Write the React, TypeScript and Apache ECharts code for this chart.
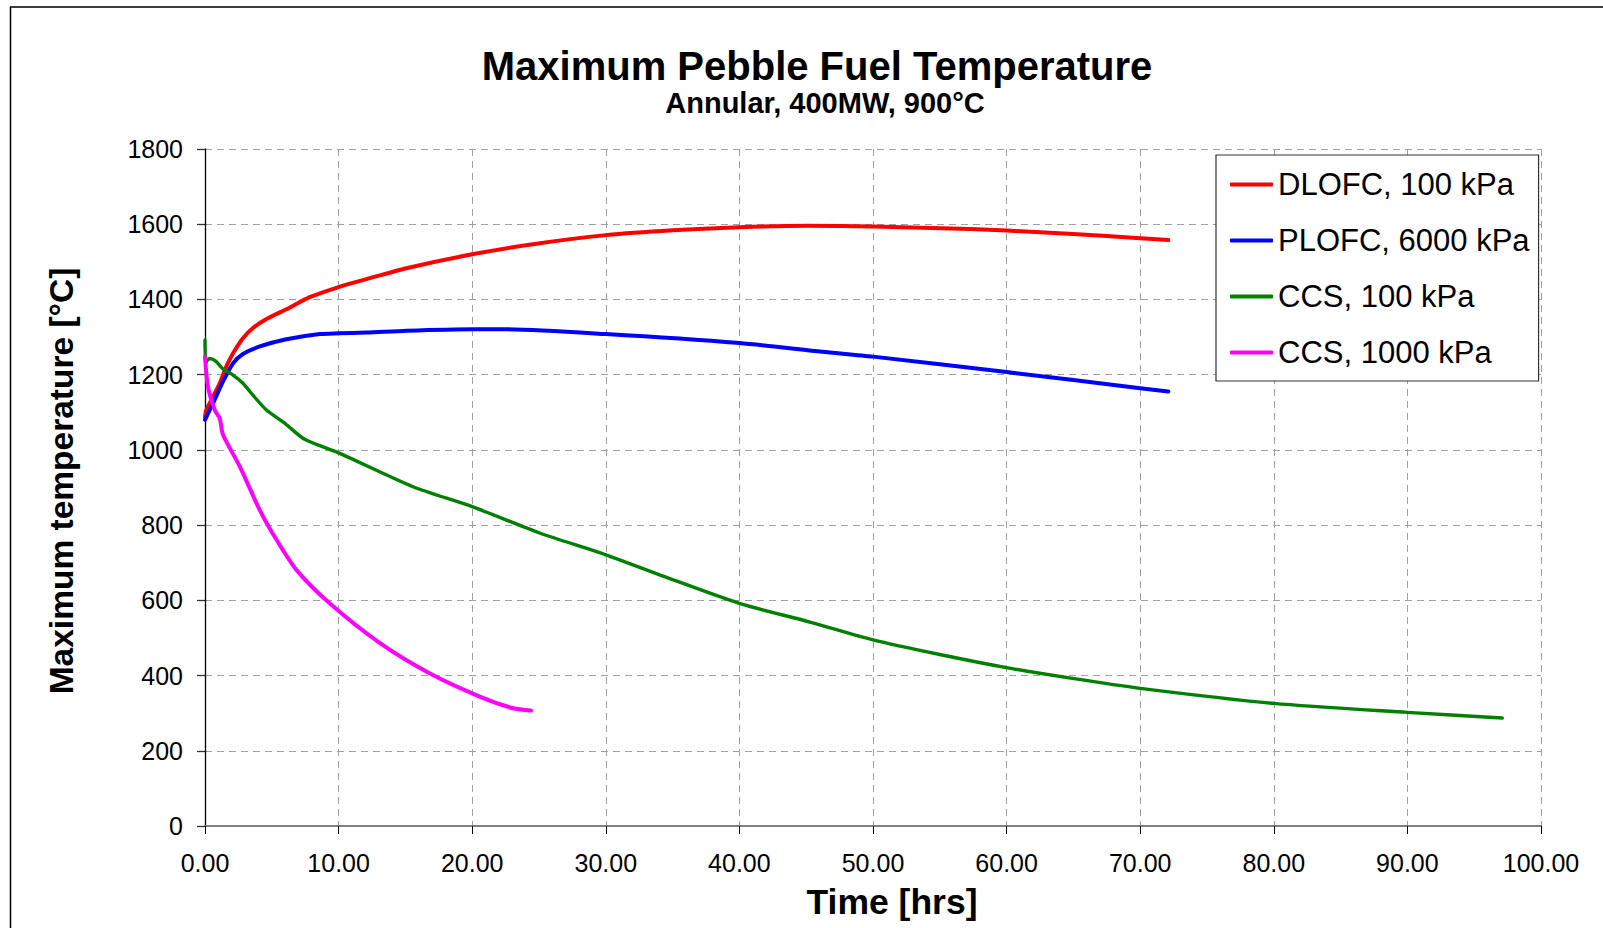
import React, { useEffect, useRef } from "react";
import * as echarts from "echarts";

const seriesNames = ["DLOFC, 100 kPa", "PLOFC, 6000 kPa", "CCS, 100 kPa", "CCS, 1000 kPa"];
const seriesColors = ["#FF0000", "#0000FF", "#008000", "#FF00FF"];

const dlofc100: [number, number][] = [
  [0, 1087], [0.1, 1106], [1.1, 1177], [1.6, 1222], [2.1, 1257], [2.84, 1297], [3.59, 1324],
  [4.6, 1348], [6.09, 1374], [7.84, 1406], [10, 1433], [12.08, 1454], [15.07, 1483], [20, 1520],
  [24.55, 1547], [30, 1571], [35, 1584], [40, 1592], [45, 1596], [50, 1594], [57.3, 1587],
  [60, 1583], [65, 1574], [70, 1563], [72.1, 1558],
];

const plofc6000: [number, number][] = [
  [0, 1080], [0.6, 1124], [1.35, 1182], [2.1, 1230], [2.84, 1255], [4.1, 1275], [6.09, 1294],
  [8.59, 1308], [10, 1310], [12.08, 1312], [15.07, 1317], [20, 1321], [22.1, 1321], [30, 1308],
  [40, 1284], [46.2, 1261], [50, 1248], [60, 1207], [70, 1164], [72.1, 1155],
];

const ccs100: [number, number][] = [
  [0, 1292], [0.05, 1232], [0.35, 1243], [0.8, 1236], [1.35, 1215], [2.1, 1199], [2.84, 1177],
  [3.6, 1145], [4.6, 1106], [6, 1070], [7.46, 1028], [10, 992], [15.57, 902], [20, 849],
  [25.05, 779], [30, 721], [34.4, 663], [40, 592], [45.2, 543], [50, 495], [55, 456], [60, 421],
  [64.8, 393], [70, 366], [80, 326], [90, 302], [97.1, 287],
];

const ccs1000: [number, number][] = [
  [0, 1248], [0.22, 1168], [0.73, 1106], [1.1, 1084], [1.35, 1040], [2.6, 956], [4.1, 840],
  [5.35, 761], [6.84, 681], [9.33, 592], [13.1, 486], [16.8, 406], [20.56, 344], [23.05, 313],
  [24.4, 307],
];

const seriesData = [dlofc100, plofc6000, ccs100, ccs1000];
const seriesWidths = [4, 4, 3.4, 4];

const titleText = "Maximum Pebble Fuel Temperature";
const subtitleText = "Annular, 400MW, 900°C";
const xAxisTitle = "Time [hrs]";
const yAxisTitle = "Maximum temperature [°C]";

const FONT = "'Liberation Sans', Arial, Helvetica, sans-serif";

export default function App() {
  const ref = useRef<HTMLDivElement>(null);
  useEffect(() => {
    if (!ref.current) return;
    const chart = echarts.init(ref.current, undefined, { renderer: "svg" });
    const option: any = {
      animation: false,
      backgroundColor: "#ffffff",
      textStyle: { fontFamily: FONT },
      grid: { left: 205, right: 62, top: 149, bottom: 102, containLabel: false },
      xAxis: {
        type: "value",
        min: 0,
        max: 100,
        interval: 10,
        axisLine: { show: true, onZero: false, lineStyle: { color: "#808080", width: 2 } },
        axisTick: { show: true, inside: false, length: 8, lineStyle: { color: "#000", width: 1 } },
        axisLabel: {
          margin: 24,
          fontSize: 25,
          color: "#000",
          fontFamily: FONT,
          formatter: (v: number) => v.toFixed(2),
        },
        splitLine: { show: true, lineStyle: { color: "#a0a0a0", width: 1, type: [7, 5] } },
      },
      yAxis: {
        type: "value",
        min: 0,
        max: 1800,
        interval: 200,
        axisLine: { show: true, onZero: false, lineStyle: { color: "#000", width: 1.3 } },
        axisTick: { show: true, inside: false, length: 8, lineStyle: { color: "#333", width: 1.3 } },
        axisLabel: {
          margin: 22,
          fontSize: 25,
          color: "#000",
          fontFamily: FONT,
          formatter: (v: number) => String(v),
        },
        splitLine: { show: true, lineStyle: { color: "#a0a0a0", width: 1, type: [7, 5] } },
      },
      legend: {
        show: true,
        orient: "vertical",
        left: 1216,
        top: 155,
        backgroundColor: "#ffffff",
        borderColor: "#333",
        borderWidth: 1.2,
        borderRadius: 0,
        padding: [14, 9, 13, 14],
        itemGap: 25,
        itemWidth: 43,
        itemHeight: 4,
        icon: "roundRect",
        textStyle: { fontSize: 31, lineHeight: 30, color: "#000", fontFamily: FONT },
        data: seriesNames,
      },
      graphic: [
        {
          type: "rect",
          silent: true,
          z: 100,
          shape: { x: 10.5, y: 7, width: 2000, height: 2000 },
          style: { fill: "none", stroke: "#000", lineWidth: 1.5 },
        },
        {
          type: "text",
          x: 817,
          y: 66,
          style: {
            text: titleText,
            font: `bold 40px ${FONT}`,
            fill: "#000",
            textAlign: "center",
            textVerticalAlign: "middle",
          },
        },
        {
          type: "text",
          x: 825,
          y: 103,
          style: {
            text: subtitleText,
            font: `bold 29px ${FONT}`,
            fill: "#000",
            textAlign: "center",
            textVerticalAlign: "middle",
          },
        },
        {
          type: "text",
          x: 892,
          y: 902,
          style: {
            text: xAxisTitle,
            font: `bold 35.5px ${FONT}`,
            fill: "#000",
            textAlign: "center",
            textVerticalAlign: "middle",
          },
        },
        {
          type: "text",
          x: 61,
          y: 481,
          rotation: Math.PI / 2,
          style: {
            text: yAxisTitle,
            font: `bold 33.5px ${FONT}`,
            fill: "#000",
            textAlign: "center",
            textVerticalAlign: "middle",
          },
        },
      ],
      series: seriesNames.map((name, i) => ({
        name,
        type: "line",
        data: seriesData[i],
        showSymbol: false,
        symbol: "none",
        smooth: 0.25,
        color: seriesColors[i],
        lineStyle: { color: seriesColors[i], width: seriesWidths[i], cap: "round", join: "round" },
        z: 2 + i,
      })),
    };
    chart.setOption(option);
    return () => chart.dispose();
  }, []);
  return (
    <div
      ref={ref}
      style={{ position: "absolute", left: 0, top: 0, width: 1603, height: 928 }}
    />
  );
}
